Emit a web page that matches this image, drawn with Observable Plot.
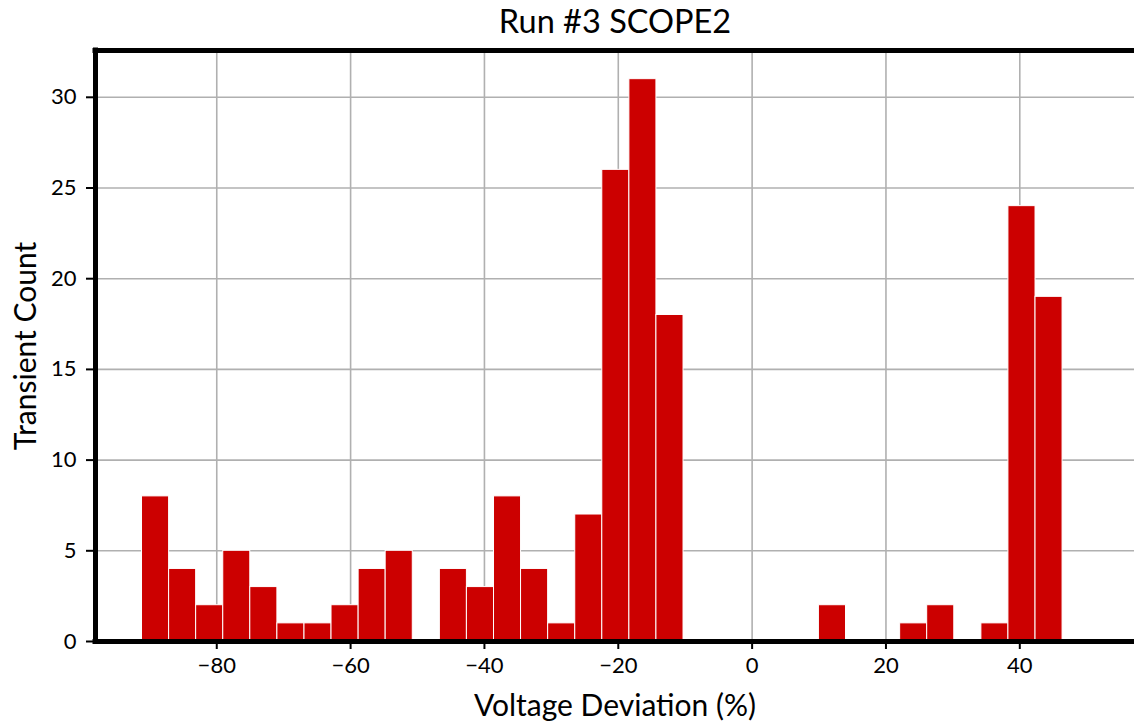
<!DOCTYPE html>
<html><head><meta charset="utf-8">
<script src="https://cdn.jsdelivr.net/npm/d3@7"></script>
<script src="https://cdn.jsdelivr.net/npm/@observablehq/plot@0.6"></script>
<style>body{margin:0;background:#fff;} svg{display:block}</style>
</head><body><div id="chart"></div>
<script>
// Histogram bins (lower / upper edges, % deviation) and counts
const binLower = [-91.17,-87.12,-83.08,-79.03,-74.99,-70.94,-66.89,-62.85,-58.80,-54.76,-50.71,-46.66,-42.62,-38.57,-34.53,-30.48,-26.43,-22.39,-18.34,-14.30,-10.25,-6.20,-2.16,1.89,5.93,9.98,14.03,18.07,22.12,26.16,30.21,34.26,38.30,42.35];
const binUpper = [-87.12,-83.08,-79.03,-74.99,-70.94,-66.89,-62.85,-58.80,-54.76,-50.71,-46.66,-42.62,-38.57,-34.53,-30.48,-26.43,-22.39,-18.34,-14.30,-10.25,-6.20,-2.16,1.89,5.93,9.98,14.03,18.07,22.12,26.16,30.21,34.26,38.30,42.35,46.39];
const counts   = [8,4,2,5,3,1,1,2,4,5,0,4,3,8,4,1,7,26,31,18,0,0,0,0,0,2,0,0,1,2,0,1,24,19];
const xTicks = [-80,-60,-40,-20,0,20,40];
const yTicks = [0,5,10,15,20,25,30];
const titleText = "Run #3 SCOPE2";
const xLabel = "Voltage Deviation (%)";
const yLabel = "Transient Count";

const bins = counts.map((c, i) => ({x1: binLower[i], x2: binUpper[i], count: c})).filter(d => d.count > 0);
const xDomain = [-98.12, 57.14];
const yDomain = [0, 32.58];
const font = "Lato, 'Open Sans', sans-serif";
const fmt = d => (d < 0 ? "\u2212" + Math.abs(d) : String(d));

const chart = Plot.plot({
  width: 1134, height: 725,
  marginLeft: 95, marginRight: 0, marginTop: 50, marginBottom: 84,
  style: {fontFamily: font, background: "white", overflow: "visible", color: "black"},
  x: {domain: xDomain},
  y: {domain: yDomain},
  marks: [
    Plot.gridX(xTicks, {stroke: "#b0b0b0", strokeOpacity: 1, strokeWidth: 1.6}),
    Plot.gridY(yTicks, {stroke: "#b0b0b0", strokeOpacity: 1, strokeWidth: 1.6}),
    Plot.rect(bins, {x1: "x1", x2: "x2", y1: 0, y2: "count", fill: "#cc0000", stroke: "white", strokeWidth: 1}),
    Plot.axisX({ticks: xTicks, tickSize: 8, tickPadding: 8, fontSize: 22, tickFormat: fmt, stroke: "black", strokeWidth: 2, label: null}),
    Plot.axisY({ticks: yTicks, tickSize: 9, tickPadding: 10, fontSize: 22, tickFormat: fmt, stroke: "black", strokeWidth: 2, label: null}),
    Plot.ruleY([0], {stroke: "black", strokeWidth: 5, strokeLinecap: "square"}),
    Plot.ruleY([yDomain[1]], {stroke: "black", strokeWidth: 5, strokeLinecap: "square"}),
    Plot.ruleX([xDomain[0]], {stroke: "black", strokeWidth: 5, strokeLinecap: "square"}),
    Plot.text([titleText], {frameAnchor: "top", lineAnchor: "middle", textAnchor: "middle", dy: -28.4, fontSize: 32.5, fill: "black"}),
    Plot.text([xLabel], {frameAnchor: "bottom", lineAnchor: "middle", textAnchor: "middle", dy: 64.4, fontSize: 30, fill: "black"}),
    Plot.text([yLabel], {frameAnchor: "left", lineAnchor: "middle", textAnchor: "middle", dx: -69.6, rotate: -90, fontSize: 30, fill: "black"})
  ]
});
document.getElementById("chart").appendChild(chart);
</script>
</body></html>
